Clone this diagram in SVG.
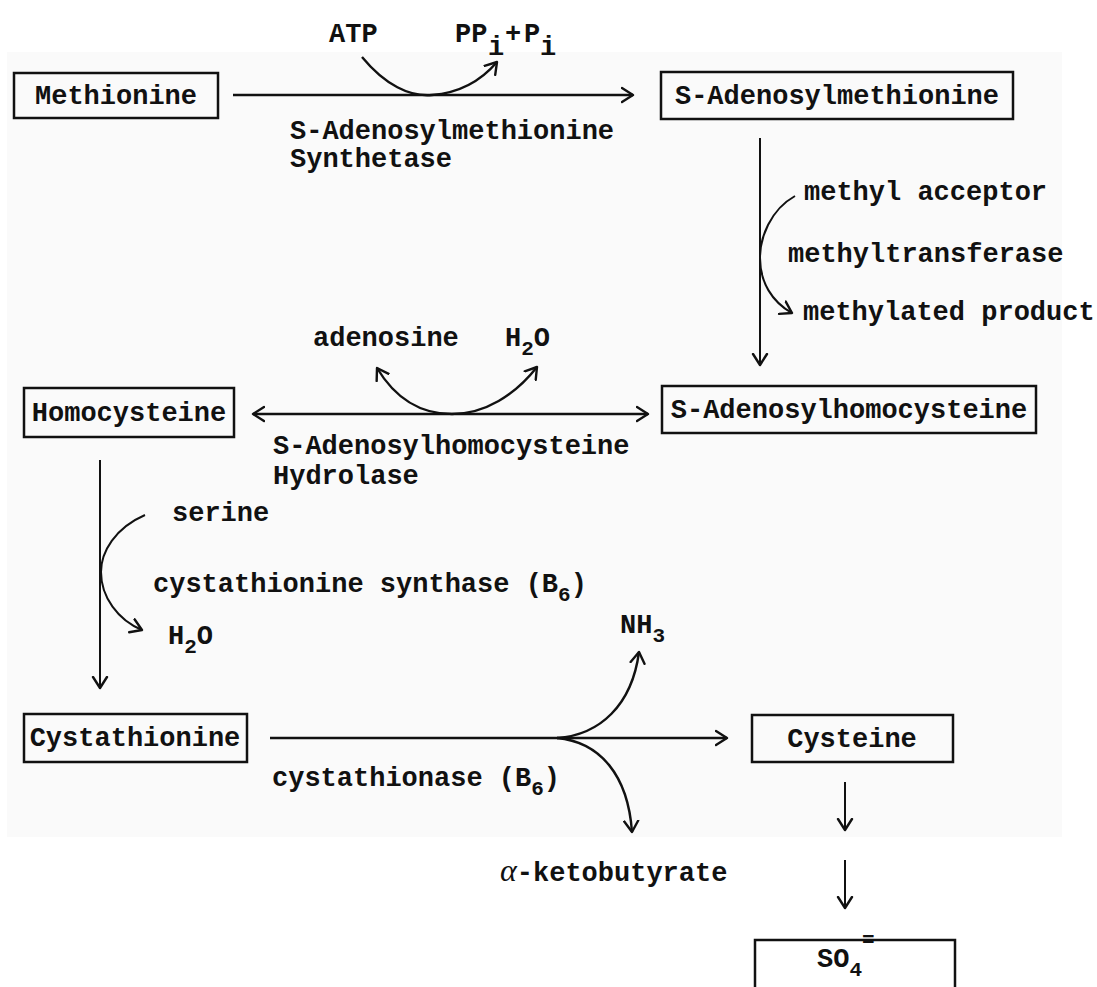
<svg xmlns="http://www.w3.org/2000/svg" width="1097" height="987" viewBox="0 0 1097 987">
<defs>
<style>
.t{font-family:"Liberation Mono","DejaVu Sans Mono",monospace;font-size:27px;font-weight:bold;fill:#111}
.s{font-size:21px}
.box{fill:none;stroke:#111;stroke-width:2.5}
.c{fill:none;stroke:#111;stroke-width:2.4}
.v{fill:none;stroke:#111;stroke-width:2}
</style>
<marker id="ah" viewBox="-1 -9 14 18" refX="11" refY="0" markerWidth="14" markerHeight="18" markerUnits="userSpaceOnUse" orient="auto-start-reverse">
<path d="M0,-7 L11,0 L0,7" fill="none" stroke="#111" stroke-width="2.4" stroke-linecap="round" stroke-linejoin="round"/>
</marker>
</defs>
<rect x="0" y="0" width="1097" height="987" fill="#ffffff"/>
<rect x="7" y="52" width="1055" height="785" fill="#fafafa"/>

<g id="connectors">
<line class="c" x1="233" y1="95" x2="633" y2="95" marker-end="url(#ah)"/>
<path class="c" d="M362,57 C385,85 410,97 432,95 C458,93 480,82 497,62" marker-end="url(#ah)"/>
<line class="v" x1="760" y1="138" x2="760" y2="365" marker-end="url(#ah)"/>
<path class="v" d="M795,196 C770,210 760,238 760,258 C760,282 772,302 792,313" marker-end="url(#ah)"/>
<line class="c" x1="253" y1="414" x2="648" y2="414" marker-start="url(#ah)" marker-end="url(#ah)"/>
<path class="c" d="M377,368 C395,398 420,414 452,414 C485,414 515,395 537,367" marker-start="url(#ah)" marker-end="url(#ah)"/>
<line class="v" x1="100" y1="460" x2="100" y2="688" marker-end="url(#ah)"/>
<path class="v" d="M145,515 C115,528 101,552 101,572 C101,597 118,620 142,630" marker-end="url(#ah)"/>
<line class="c" x1="270" y1="738" x2="727" y2="738" marker-end="url(#ah)"/>
<path class="c" d="M557,738 C600,735 632,705 639,652" marker-end="url(#ah)"/>
<path class="c" d="M557,738 C600,742 628,775 632,832" marker-end="url(#ah)"/>
<line class="v" x1="845" y1="782" x2="845" y2="830" marker-end="url(#ah)"/>
<line class="v" x1="845" y1="860" x2="845" y2="908" marker-end="url(#ah)"/>
</g>

<g id="labels">
<text class="t" x="329" y="42">ATP</text>
<text class="t" x="455" y="42">PP</text>
<text class="t" x="488" y="55">i</text>
<text class="t" x="505" y="42">+</text>
<text class="t" x="524" y="42">P</text>
<text class="t" x="540" y="55">i</text>
<text class="t" x="290" y="139">S-Adenosylmethionine</text>
<text class="t" x="290" y="167">Synthetase</text>
<text class="t" x="804" y="200">methyl acceptor</text>
<text class="t" x="788" y="262">methyltransferase</text>
<text class="t" x="803" y="320">methylated product</text>
<text class="t" x="313" y="346">adenosine</text>
<text class="t" x="505" y="346">H<tspan class="s" dy="9">2</tspan><tspan dy="-9">O</tspan></text>
<text class="t" x="273" y="454">S-Adenosylhomocysteine</text>
<text class="t" x="273" y="484">Hydrolase</text>
<text class="t" x="172" y="521">serine</text>
<text class="t" x="153" y="592">cystathionine synthase (B<tspan class="s" dy="9">6</tspan><tspan dy="-9">)</tspan></text>
<text class="t" x="168" y="644">H<tspan class="s" dy="9">2</tspan><tspan dy="-9">O</tspan></text>
<text class="t" x="620" y="633">NH<tspan class="s" dy="9">3</tspan></text>
<text class="t" x="272" y="786">cystathionase (B<tspan class="s" dy="9">6</tspan><tspan dy="-9">)</tspan></text>
<text class="t" x="500" y="881"><tspan font-family="Liberation Serif" font-style="italic" font-weight="normal" font-size="32">α</tspan>-ketobutyrate</text>
</g>

<g id="methionine">
<rect class="box" x="14" y="73" width="204" height="45"/>
<text class="t" x="116" y="104" text-anchor="middle">Methionine</text>
</g>
<g id="sam">
<rect class="box" x="661" y="72" width="352" height="47"/>
<text class="t" x="837" y="104" text-anchor="middle">S-Adenosylmethionine</text>
</g>
<g id="sah">
<rect class="box" x="662" y="386" width="374" height="47"/>
<text class="t" x="849" y="418" text-anchor="middle">S-Adenosylhomocysteine</text>
</g>
<g id="homocysteine">
<rect class="box" x="24" y="388" width="210" height="49"/>
<text class="t" x="129" y="421" text-anchor="middle">Homocysteine</text>
</g>
<g id="cystathionine">
<rect class="box" x="24" y="714" width="223" height="48"/>
<text class="t" x="135" y="746" text-anchor="middle">Cystathionine</text>
</g>
<g id="cysteine">
<rect class="box" x="752" y="715" width="201" height="47"/>
<text class="t" x="852" y="747" text-anchor="middle">Cysteine</text>
</g>
<g id="sulfate">
<path class="box" d="M755,987 V940 H955 V987"/>
<text class="t" x="817" y="967">SO<tspan class="s" dy="9">4</tspan><tspan class="s" dy="-30">=</tspan></text>
</g>
</svg>
